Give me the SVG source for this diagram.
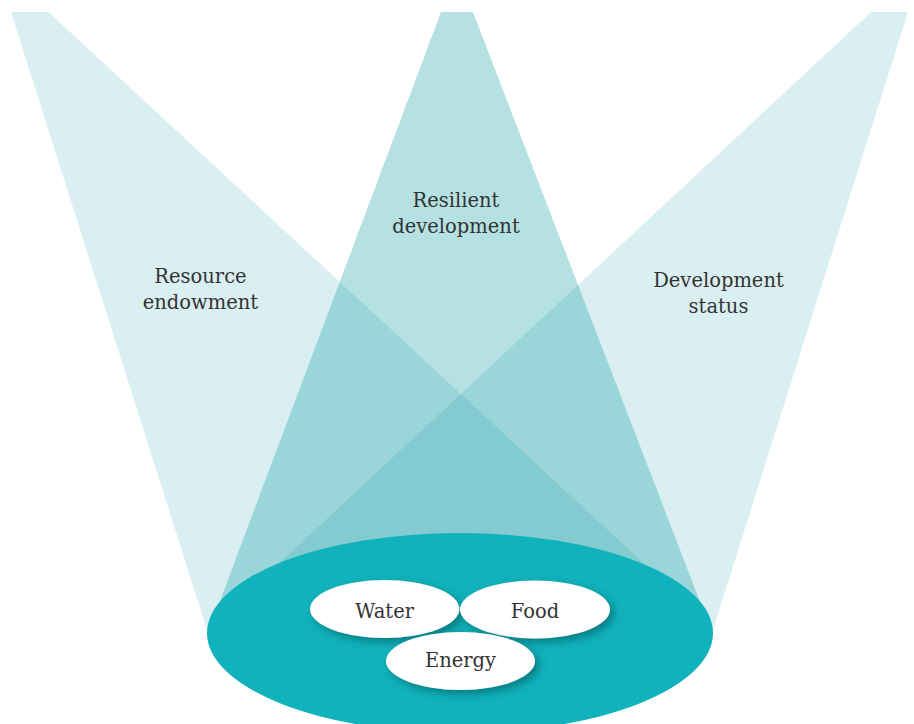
<svg xmlns="http://www.w3.org/2000/svg" width="914" height="724" viewBox="0 0 914 724">
<defs>
<style>
.side{fill:#0096a0;fill-opacity:0.15}
.mid{fill:#0096a0;fill-opacity:0.29}
.lbl{font-family:"DejaVu Serif","Liberation Serif",serif;font-size:19.5px;fill:#333333;text-anchor:middle}
.node{fill:#ffffff;filter:url(#sh)}
</style>
<filter id="sh" x="-30%" y="-40%" width="160%" height="190%">
<feDropShadow dx="4" dy="4" stdDeviation="4" flood-color="#00555c" flood-opacity="0.6"/>
</filter>
</defs>
<rect width="914" height="724" fill="#ffffff"/>
<g id="beams">
<polygon id="beam-left" class="side" points="11,12 48.4,12 694,610 460,660 208,633"/>
<polygon id="beam-middle" class="mid" points="441,12 473,12 712,633 460,680 208,633"/>
<polygon id="beam-right" class="side" points="871,12 908,12 712,633 460,660 229,610"/>
</g>
<g id="beam-labels">
<text class="lbl" x="200.5" y="283">Resource</text>
<text class="lbl" x="200.5" y="309">endowment</text>
<text class="lbl" x="456" y="207">Resilient</text>
<text class="lbl" x="456" y="233">development</text>
<text class="lbl" x="718.5" y="287">Development</text>
<text class="lbl" x="718.5" y="313">status</text>
</g>
<g id="base">
<ellipse cx="460" cy="633" rx="253" ry="100" fill="#10b2bb"/>
</g>
<g id="connectors"></g>
<g id="node-water">
<ellipse class="node" cx="384.7" cy="609" rx="74.7" ry="29"/>
<text class="lbl" x="384.7" y="618">Water</text>
</g>
<g id="node-food">
<ellipse class="node" cx="535" cy="609.5" rx="75" ry="29"/>
<text class="lbl" x="535" y="618">Food</text>
</g>
<g id="node-energy">
<ellipse class="node" cx="460.5" cy="661" rx="74.5" ry="29"/>
<text class="lbl" x="460.5" y="667">Energy</text>
</g>
</svg>
